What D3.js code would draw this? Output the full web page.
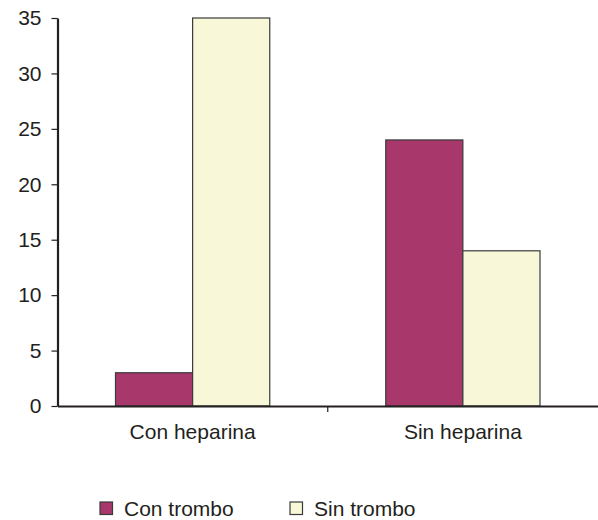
<!DOCTYPE html>
<html>
<head>
<meta charset="utf-8">
<script src="https://cdn.jsdelivr.net/npm/d3@7"></script>
<style>
  html, body { margin: 0; padding: 0; background: #fff; }
  svg { display: block; }
  text { font-family: "Liberation Sans", Arial, sans-serif; fill: #231f20; }
</style>
</head>
<body>
<svg id="chart" width="598" height="520"></svg>
<script>
const categories = ["Con heparina", "Sin heparina"];
const seriesNames = ["Con trombo", "Sin trombo"];
const conTrombo = [3, 24];
const sinTrombo = [35, 14];
const yTicks = [0, 5, 10, 15, 20, 25, 30, 35];
const colors = ["#a8386c", "#f8f8d8"];

const svg = d3.select("#chart");
const plotLeft = 57.5, plotRight = 598, plotTop = 18, plotBottom = 406;
const fontSize = 21;

const x = d3.scaleBand().domain(categories).range([plotLeft, plotRight]).paddingInner(0).paddingOuter(0);
const inner = d3.scaleBand().domain(seriesNames).range([58, x.bandwidth() - 58]);
const y = d3.scaleLinear().domain([0, 35]).range([plotBottom, plotTop]);

const values = [conTrombo, sinTrombo];

// Bars
const groups = svg.append("g").selectAll("g")
  .data(categories).join("g")
  .attr("transform", d => `translate(${x(d)},0)`);

groups.selectAll("rect")
  .data((c, ci) => seriesNames.map((s, si) => ({ s, si, v: values[si][ci] })))
  .join("rect")
  .attr("x", d => inner(d.s))
  .attr("width", inner.bandwidth())
  .attr("y", d => y(d.v))
  .attr("height", d => y(0) - y(d.v))
  .attr("fill", d => colors[d.si])
  .attr("stroke", "#3a3a3a")
  .attr("stroke-width", 1.2);

// Y axis
const yAxis = svg.append("g")
  .attr("transform", `translate(${plotLeft},0)`)
  .call(d3.axisLeft(y).tickValues(yTicks).tickSize(6).tickPadding(10).tickSizeOuter(0));
yAxis.select(".domain").attr("stroke", "#231f20").attr("stroke-width", 2.2);
yAxis.selectAll(".tick line").attr("stroke", "#231f20").attr("stroke-width", 1.2);
yAxis.selectAll(".tick text").attr("font-size", fontSize).style("fill", "#231f20");

// X axis
const xAxis = svg.append("g")
  .attr("transform", `translate(0,${plotBottom})`)
  .call(d3.axisBottom(x).tickSize(0).tickPadding(18).tickSizeOuter(0));
xAxis.select(".domain").attr("stroke", "#231f20").attr("stroke-width", 2.2);
xAxis.selectAll(".tick text").attr("font-size", fontSize).style("fill", "#231f20");

// Separator tick between categories
svg.append("line")
  .attr("x1", x(categories[1])).attr("x2", x(categories[1]))
  .attr("y1", plotBottom).attr("y2", plotBottom + 6)
  .attr("stroke", "#231f20").attr("stroke-width", 1.2);

// Legend
const legendX = [100, 290];
const legend = svg.append("g").selectAll("g")
  .data(seriesNames).join("g")
  .attr("transform", (d, i) => `translate(${legendX[i]},502)`);
legend.append("rect")
  .attr("width", 12.5).attr("height", 12.5)
  .attr("fill", (d, i) => colors[i])
  .attr("stroke", "#3a3a3a").attr("stroke-width", 1.2);
legend.append("text")
  .attr("x", 24).attr("y", 14)
  .attr("font-size", fontSize)
  .text(d => d);
</script>
</body>
</html>
